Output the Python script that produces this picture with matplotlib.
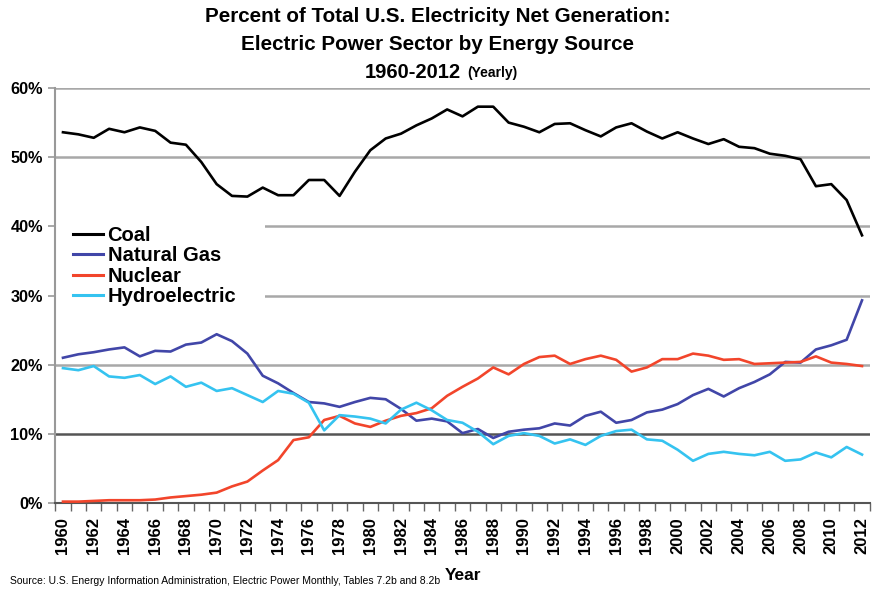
import matplotlib
matplotlib.use("Agg")
import matplotlib.pyplot as plt
from matplotlib.ticker import FixedLocator, FuncFormatter

years = list(range(1960, 2013))

coal = [53.6, 53.3, 52.8, 54.1, 53.6, 54.3, 53.8, 52.1, 51.8, 49.3,
        46.1, 44.4, 44.3, 45.6, 44.5, 44.5, 46.7, 46.7, 44.4, 47.9,
        51.0, 52.7, 53.4, 54.6, 55.6, 56.9, 55.9, 57.3, 57.3, 55.0,
        54.4, 53.6, 54.8, 54.9, 53.9, 53.0, 54.3, 54.9, 53.7, 52.7,
        53.6, 52.7, 51.9, 52.6, 51.5, 51.3, 50.5, 50.2, 49.7, 45.8,
        46.1, 43.8, 38.7]

natural_gas = [21.0, 21.5, 21.8, 22.2, 22.5, 21.2, 22.0, 21.9, 22.9, 23.2,
               24.4, 23.4, 21.6, 18.4, 17.3, 15.9, 14.6, 14.4, 13.9, 14.6,
               15.2, 15.0, 13.6, 11.9, 12.2, 11.8, 10.1, 10.7, 9.4, 10.3,
               10.6, 10.8, 11.5, 11.2, 12.6, 13.2, 11.6, 12.0, 13.1, 13.5,
               14.3, 15.6, 16.5, 15.4, 16.6, 17.5, 18.6, 20.4, 20.3, 22.2,
               22.8, 23.6, 29.3]

nuclear = [0.2, 0.2, 0.3, 0.4, 0.4, 0.4, 0.5, 0.8, 1.0, 1.2,
           1.5, 2.4, 3.1, 4.7, 6.2, 9.1, 9.5, 12.0, 12.6, 11.5,
           11.0, 11.9, 12.6, 13.0, 13.7, 15.5, 16.8, 18.0, 19.6, 18.6,
           20.1, 21.1, 21.3, 20.1, 20.8, 21.3, 20.7, 19.0, 19.6, 20.8,
           20.8, 21.6, 21.3, 20.7, 20.8, 20.1, 20.2, 20.3, 20.4, 21.2,
           20.3, 20.1, 19.8]

hydroelectric = [19.5, 19.2, 19.8, 18.3, 18.1, 18.5, 17.2, 18.3, 16.8, 17.4,
                 16.2, 16.6, 15.6, 14.6, 16.2, 15.8, 14.5, 10.5, 12.7, 12.5,
                 12.2, 11.5, 13.5, 14.5, 13.4, 12.0, 11.6, 10.3, 8.5, 9.7,
                 10.1, 9.7, 8.6, 9.2, 8.4, 9.7, 10.4, 10.6, 9.2, 9.0,
                 7.7, 6.1, 7.1, 7.4, 7.1, 6.9, 7.4, 6.1, 6.3, 7.3,
                 6.6, 8.1, 7.0]

series_names = ["Coal", "Natural Gas", "Nuclear", "Hydroelectric"]
y_ticks = [0, 10, 20, 30, 40, 50, 60]
x_label_years = list(range(1960, 2013, 2))

font_reg = ["Liberation Sans", "DejaVu Sans"]

W, H = 875, 592
fig = plt.figure(figsize=(8.75, 5.92), dpi=100)
ax = fig.add_axes([55.3 / W, 1 - 503 / H, 814.4 / W, 415 / H])

colors = ["#000000", "#4146a8", "#f2452b", "#35c3f0"]
for vals, name, c in zip([coal, natural_gas, nuclear, hydroelectric], series_names, colors):
    ax.plot(years, vals, color=c, lw=1.9, label=name, zorder=3, solid_joinstyle="round")

ax.set_xlim(1959.5, 2012.5)
ax.set_ylim(0, 60)

# gridlines
for t in y_ticks[1:]:
    ax.axhline(t, color="#555555" if t == 10 else "#a8a8a8", lw=1.8, zorder=1)

for s in ["top", "right"]:
    ax.spines[s].set_visible(False)
ax.spines["left"].set_color("#999999")
ax.spines["left"].set_linewidth(1.5)
ax.spines["bottom"].set_color("#555555")
ax.spines["bottom"].set_linewidth(1.5)

ax.yaxis.set_major_locator(FixedLocator(y_ticks))
ax.yaxis.set_major_formatter(FuncFormatter(lambda v, p: f"{int(v)}%"))
ax.tick_params(axis="y", length=5, width=1.2, color="#999999", pad=4)
for lab in ax.get_yticklabels():
    lab.set_fontfamily(font_reg)
    lab.set_fontweight("bold")
    lab.set_fontsize(11.7)

ax.xaxis.set_major_locator(FixedLocator(x_label_years))
ax.xaxis.set_minor_locator(FixedLocator([y - 0.5 for y in range(1960, 2014)]))
ax.tick_params(axis="x", which="major", length=0, pad=10)
ax.tick_params(axis="x", which="minor", length=6, width=1.0, color="#666666")
ax.set_xticklabels([str(y) for y in x_label_years], rotation=90,
                   fontfamily=font_reg, fontweight="bold", fontsize=12)

leg = ax.legend(loc="upper left", bbox_to_anchor=(12 / 814.4, 1 - (220 - 88) / 415),
                frameon=True, facecolor="white", edgecolor="none", framealpha=1.0,
                handlelength=1.45, handletextpad=0.25, labelspacing=0.065,
                borderaxespad=0.0, borderpad=0.3,
                prop={"family": font_reg, "weight": "bold", "size": 14.5})
leg.set_zorder(5)
for l in leg.get_lines():
    l.set_linewidth(2.2)
# white band covering gridlines behind the legend area (as in reference)
ax.axvspan(1959.5, 1959.5 + (265 - 55.3) / 814.4 * 53, ymin=(503 - 300) / 415, ymax=(503 - 216) / 415,
           color="white", zorder=2, lw=0)

# Title
fig.text(0.5, 1 - 17 / H, "Percent of Total U.S. Electricity Net Generation:",
         ha="center", va="center", fontsize=14.9, fontweight="bold", family=font_reg)
fig.text(0.5, 1 - 45 / H, "Electric Power Sector by Energy Source",
         ha="center", va="center", fontsize=14.9, fontweight="bold", family=font_reg)
fig.text(365 / W, 1 - 72 / H, "1960-2012", ha="left", va="center",
         fontsize=14.5, fontweight="bold", family=font_reg)
fig.text(467 / W, 1 - 73 / H, "(Yearly)", ha="left", va="center",
         fontsize=10, fontweight="bold", family=font_reg)

fig.text(10 / W, 1 - 581 / H,
         "Source: U.S. Energy Information Administration, Electric Power Monthly, Tables 7.2b and 8.2b",
         ha="left", va="center", fontsize=7.5, family=font_reg)
fig.text(445 / W, 1 - 576 / H, "Year", ha="left", va="center",
         fontsize=12.5, fontweight="bold", family=font_reg)

fig.savefig("out.png", dpi=100)
